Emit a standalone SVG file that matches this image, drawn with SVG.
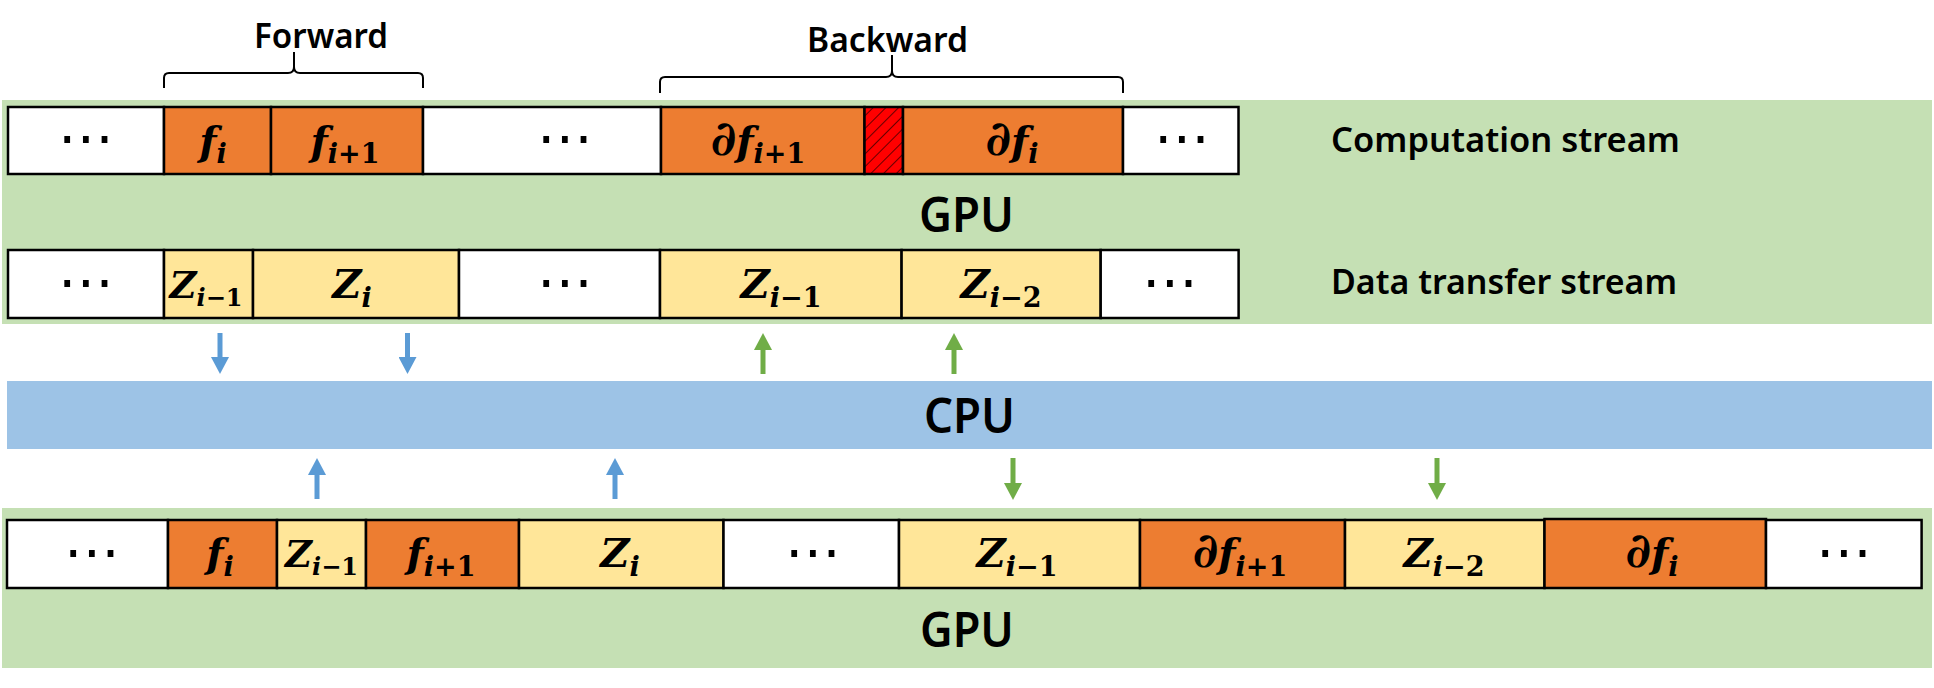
<svg xmlns="http://www.w3.org/2000/svg" width="1934" height="688" viewBox="0 0 1934 688">
<defs>
<style>
.panel{fill:#C5E0B4}
.cpu{fill:#9DC3E6}
.box{stroke:#000;stroke-width:2.5}
.w{fill:#FFFFFF}
.o{fill:#ED7D31}
.y{fill:#FFE699}
.lbl{font-family:"Noto Sans","Open Sans","Liberation Sans",sans-serif;font-weight:600;fill:#000}
.big{font-size:48px;text-anchor:middle}
.side{font-size:35px}
.hdr{font-size:35px;text-anchor:middle}
.m{font-family:"DejaVu Serif","Liberation Serif",serif;font-weight:bold;font-size:40px;text-anchor:middle;fill:#000}
.n{font-size:37px}
.bi{font-style:italic}
.si{font-size:27px;font-style:italic}
.su{font-size:27px}
.n .si,.n .su{font-size:24px}
.d{font-size:48px}
.dots{font-family:"DejaVu Sans",sans-serif;font-size:56px;text-anchor:middle;fill:#000}
.brace{fill:none;stroke:#000;stroke-width:2}
.ab{stroke:#5B9BD5;stroke-width:5}
.ag{stroke:#70AD47;stroke-width:5}
</style>
<pattern id="hatch" patternUnits="userSpaceOnUse" width="9" height="9" patternTransform="rotate(45)">
<rect width="9" height="9" fill="#FF0000"/>
<line x1="0" y1="0" x2="0" y2="9" stroke="#000" stroke-width="1.2"/>
</pattern>
<marker id="hb" markerUnits="userSpaceOnUse" markerWidth="17" markerHeight="18" refX="0" refY="9" orient="auto">
<path d="M0,0 L17,9 L0,18 Z" fill="#5B9BD5"/>
</marker>
<marker id="hg" markerUnits="userSpaceOnUse" markerWidth="17" markerHeight="18" refX="0" refY="9" orient="auto">
<path d="M0,0 L17,9 L0,18 Z" fill="#70AD47"/>
</marker>
</defs>
<rect width="1934" height="688" fill="#FFFFFF"/>

<g id="gpu-top">
<rect class="panel" x="2" y="100" width="1930" height="224"/>
<text class="lbl big" x="966.5" y="232" textLength="95" lengthAdjust="spacingAndGlyphs">GPU</text>
<text class="lbl side" x="1331" y="152" textLength="349" lengthAdjust="spacingAndGlyphs">Computation stream</text>
<text class="lbl side" x="1331" y="294" textLength="346" lengthAdjust="spacingAndGlyphs">Data transfer stream</text>
</g>

<g id="cpu">
<rect class="cpu" x="7" y="381" width="1925" height="68"/>
<text class="lbl big" x="969.5" y="433" textLength="91" lengthAdjust="spacingAndGlyphs">CPU</text>
</g>

<g id="gpu-bottom">
<rect class="panel" x="2" y="508" width="1930" height="160"/>
<text class="lbl big" x="967" y="647" textLength="94" lengthAdjust="spacingAndGlyphs">GPU</text>
</g>

<g id="labels">
<text class="lbl hdr" x="321" y="48" textLength="134" lengthAdjust="spacingAndGlyphs">Forward</text>
<text class="lbl hdr" x="887.5" y="52" textLength="161" lengthAdjust="spacingAndGlyphs">Backward</text>
<path class="brace" d="M164,88 V78 Q164,73 169,73 H288 Q294,73 294,67 V52 M294,67 Q294,73 300,73 H418 Q423,73 423,78 V88"/>
<path class="brace" d="M660,93 V82 Q660,77 665,77 H886 Q892,77 892,71 V55 M892,71 Q892,77 898,77 H1118 Q1123,77 1123,82 V93"/>
</g>

<g id="computation-stream">
<rect class="box w" x="8" y="107" width="156" height="67"/>
<text class="dots" x="86" y="157">⋯</text>
<rect class="box o" x="164" y="107" width="107" height="67"/>
<text class="m" x="213" y="155"><tspan class="bi">f</tspan><tspan class="si" dy="8">i</tspan></text>
<rect class="box o" x="271" y="107" width="152" height="67"/>
<text class="m" x="345" y="155"><tspan class="bi">f</tspan><tspan class="si" dy="8">i</tspan><tspan class="su">+1</tspan></text>
<rect class="box w" x="423" y="107" width="238" height="67"/>
<text class="dots" x="565" y="157">⋯</text>
<rect class="box o" x="661" y="107" width="203.5" height="67"/>
<text class="m" x="758" y="155"><tspan class="d">∂</tspan><tspan class="bi">f</tspan><tspan class="si" dy="8">i</tspan><tspan class="su">+1</tspan></text>
<rect class="box" x="864.5" y="107" width="38.5" height="67" fill="url(#hatch)"/>
<rect class="box o" x="903" y="107" width="220" height="67"/>
<text class="m" x="1012" y="155"><tspan class="d">∂</tspan><tspan class="bi">f</tspan><tspan class="si" dy="8">i</tspan></text>
<rect class="box w" x="1123" y="107" width="115.5" height="67"/>
<text class="dots" x="1182" y="157">⋯</text>
</g>

<g id="data-transfer-stream">
<rect class="box w" x="8" y="250" width="156" height="68"/>
<text class="dots" x="86" y="301">⋯</text>
<rect class="box y" x="164" y="250" width="89" height="68"/>
<text class="m n" x="206" y="298"><tspan class="bi">Z</tspan><tspan class="si" dy="8">i</tspan><tspan class="su">−1</tspan></text>
<rect class="box y" x="253" y="250" width="206" height="68"/>
<text class="m" x="352" y="298"><tspan class="bi">Z</tspan><tspan class="si" dy="9">i</tspan></text>
<rect class="box w" x="459" y="250" width="201" height="68"/>
<text class="dots" x="565" y="301">⋯</text>
<rect class="box y" x="660" y="250" width="241.6" height="68"/>
<text class="m" x="781" y="298"><tspan class="bi">Z</tspan><tspan class="si" dy="9">i</tspan><tspan class="su">−1</tspan></text>
<rect class="box y" x="901.6" y="250" width="199.1" height="68"/>
<text class="m" x="1001" y="298"><tspan class="bi">Z</tspan><tspan class="si" dy="9">i</tspan><tspan class="su">−2</tspan></text>
<rect class="box w" x="1100.7" y="250" width="137.9" height="68"/>
<text class="dots" x="1170" y="301">⋯</text>
</g>

<g id="gpu-memory-row">
<rect class="box w" x="7" y="520" width="161" height="68"/>
<text class="dots" x="92" y="571">⋯</text>
<rect class="box o" x="168" y="520" width="109" height="68"/>
<text class="m" x="220" y="567"><tspan class="bi">f</tspan><tspan class="si" dy="9">i</tspan></text>
<rect class="box y" x="277" y="520" width="89" height="68"/>
<text class="m n" x="321.5" y="567"><tspan class="bi">Z</tspan><tspan class="si" dy="8">i</tspan><tspan class="su">−1</tspan></text>
<rect class="box o" x="366" y="520" width="153" height="68"/>
<text class="m" x="441" y="567"><tspan class="bi">f</tspan><tspan class="si" dy="9">i</tspan><tspan class="su">+1</tspan></text>
<rect class="box y" x="519" y="520" width="204.5" height="68"/>
<text class="m" x="620" y="567"><tspan class="bi">Z</tspan><tspan class="si" dy="9">i</tspan></text>
<rect class="box w" x="723.5" y="520" width="175.5" height="68"/>
<text class="dots" x="813" y="571">⋯</text>
<rect class="box y" x="899" y="520" width="241" height="68"/>
<text class="m" x="1017" y="567"><tspan class="bi">Z</tspan><tspan class="si" dy="9">i</tspan><tspan class="su">−1</tspan></text>
<rect class="box o" x="1140" y="520" width="205" height="68"/>
<text class="m" x="1240" y="567"><tspan class="d">∂</tspan><tspan class="bi">f</tspan><tspan class="si" dy="9">i</tspan><tspan class="su">+1</tspan></text>
<rect class="box y" x="1345" y="520" width="199.5" height="68"/>
<text class="m" x="1444" y="567"><tspan class="bi">Z</tspan><tspan class="si" dy="9">i</tspan><tspan class="su">−2</tspan></text>
<rect class="box o" x="1544.5" y="519" width="221.5" height="69"/>
<text class="m" x="1652" y="567"><tspan class="d">∂</tspan><tspan class="bi">f</tspan><tspan class="si" dy="9">i</tspan></text>
<rect class="box w" x="1766" y="520" width="155.6" height="68"/>
<text class="dots" x="1844" y="571">⋯</text>
</g>

<g id="connectors">
<line class="ab" x1="220" y1="333" x2="220" y2="357" marker-end="url(#hb)"/>
<line class="ab" x1="407.5" y1="333" x2="407.5" y2="357" marker-end="url(#hb)"/>
<line class="ag" x1="763" y1="374" x2="763" y2="350" marker-end="url(#hg)"/>
<line class="ag" x1="954" y1="374" x2="954" y2="350" marker-end="url(#hg)"/>
<line class="ab" x1="317" y1="499" x2="317" y2="475" marker-end="url(#hb)"/>
<line class="ab" x1="615" y1="499" x2="615" y2="475" marker-end="url(#hb)"/>
<line class="ag" x1="1013" y1="458" x2="1013" y2="483" marker-end="url(#hg)"/>
<line class="ag" x1="1437" y1="458" x2="1437" y2="483" marker-end="url(#hg)"/>
</g>
</svg>
